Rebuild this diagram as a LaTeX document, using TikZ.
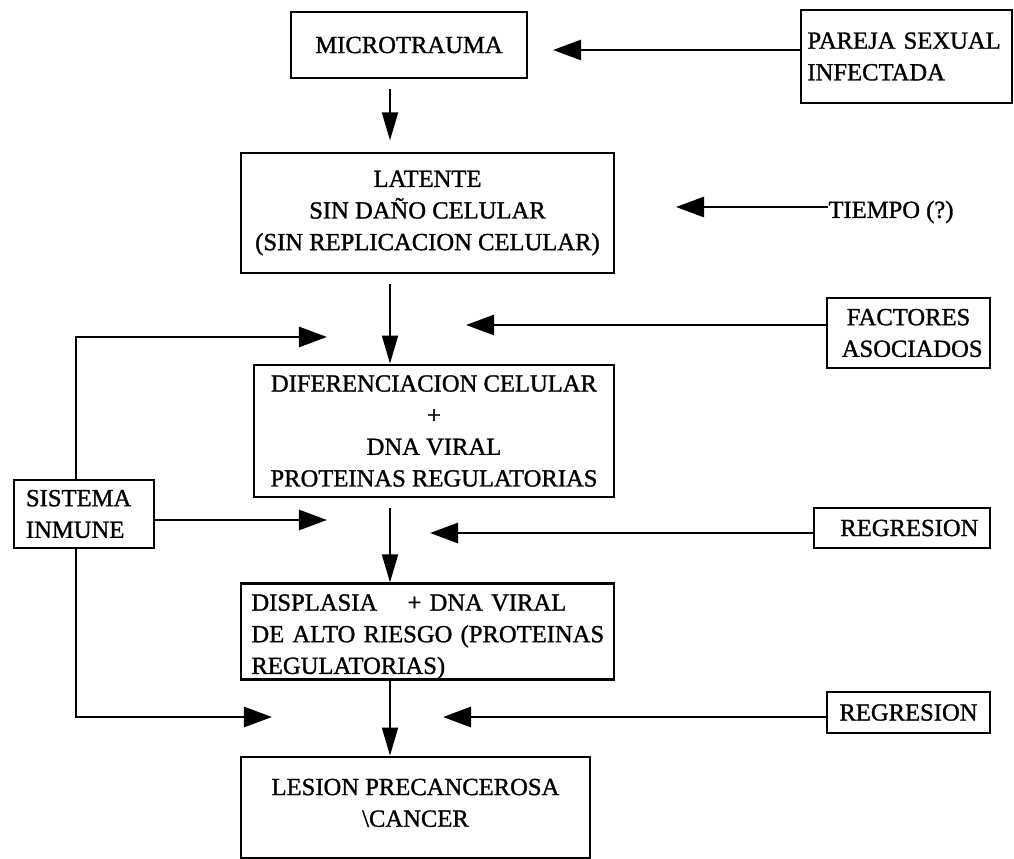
\documentclass[tikz,border=0pt]{standalone}
\usepackage{fontspec}
\setmainfont{Liberation Serif}[FakeBold=1.2]
\usetikzlibrary{arrows.meta,positioning}

\begin{document}
\begin{tikzpicture}[
  x=0.025cm, y=-0.025cm,
  font=\fontsize{17.5}{22.5}\selectfont,
  box/.style={draw, line width=2pt, inner sep=0pt, align=center},
  leftbox/.style={box, align=left},
  harrow/.style={line width=2pt, -{Triangle[length=0.7cm, width=0.5cm]}},
  varrow/.style={line width=1.3pt, -{Triangle[length=0.7cm, width=0.4cm]}}
]
\useasboundingbox (0,0) rectangle (1014,859);

% central chain
\node[box, minimum width=5.9cm, minimum height=1.65cm] (micro) at (409,45) {MICROTRAUMA};
\node[box, minimum width=9.325cm, minimum height=3.0cm] (lat) at (427.5,213) {LATENTE\\SIN DAÑO CELULAR\\(SIN REPLICACION CELULAR)};
\node[box, minimum width=9.0cm, minimum height=3.3cm] (difer) at (434,431) {DIFERENCIACION CELULAR\\+\\DNA VIRAL\\PROTEINAS REGULATORIAS};
\node[leftbox, text width=8.8cm, inner xsep=0.26cm, minimum height=2.325cm] (displ) at (427.5,631.5) {\rule{0pt}{19pt}\mbox{DISPLASIA\hspace{0.9em} + DNA VIRAL}\\\mbox{DE ALTO RIESGO (PROTEINAS}\\REGULATORIAS)};
\node[box, minimum width=8.725cm, minimum height=2.525cm] (lesion) at (415.5,807.5) {LESION PRECANCEROSA\\\textbackslash CANCER\\[-0.9em]};

% side factors
\node[leftbox, text width=4.95cm, inner xsep=0.16cm, minimum height=2.325cm] (pareja) at (906.5,56.5) {PAREJA SEXUAL\\INFECTADA};
\node[inner sep=0pt] (tiempo) at (891,212) {TIEMPO (?)};
\node[box, minimum width=4.075cm, minimum height=1.75cm] (factores) at (908.5,333) {FACTORES\\\hspace{0.3em}ASOCIADOS};
\node[box, minimum width=4.4cm, minimum height=1.0cm] (rega) at (902,528) {\hspace{0.6em}REGRESION};
\node[box, minimum width=4.075cm, minimum height=1.025cm] (regb) at (908.5,712.5) {REGRESION};
\node[leftbox, text width=2.9cm, inner xsep=0.3cm, minimum height=1.7cm] (sistema) at (84,514) {SISTEMA\\INMUNE};

\coordinate (spine) at (390,0);
\draw[varrow, shorten <=0.25cm, shorten >=0.28cm] (micro.south -| spine) -- (lat.north -| spine);
\draw[varrow, shorten <=0.25cm] (lat.south -| spine) -- (difer.north -| spine);
\draw[varrow, shorten <=0.25cm] (difer.south -| spine) -- (displ.north -| spine);
\draw[varrow] (displ.south -| spine) -- (lesion.north -| spine);

\coordinate (microtip) at (553,50);
\coordinate (lattip) at (676,207);
\coordinate (factip) at (466,325);
\coordinate (regtipa) at (430,533);
\coordinate (regtipb) at (443,717);
\draw[harrow] (pareja.west |- microtip) -- (microtip);
\draw[harrow] (tiempo.west |- lattip) -- (lattip);
\draw[harrow] (factores.west |- factip) -- (factip);
\draw[harrow] (rega.west |- regtipa) -- (regtipa);
\draw[harrow] (regb.west |- regtipb) -- (regtipb);

\coordinate (sisline) at (76,0);
\coordinate (sistop) at (327,337);
\coordinate (sismid) at (327,520);
\coordinate (sisbot) at (272,717);
\draw[harrow] (sistema.north -| sisline) |- (sistop);
\draw[harrow] (sistema.east |- sismid) -- (sismid);
\draw[harrow] (sistema.south -| sisline) |- (sisbot);
\end{tikzpicture}
\end{document}
